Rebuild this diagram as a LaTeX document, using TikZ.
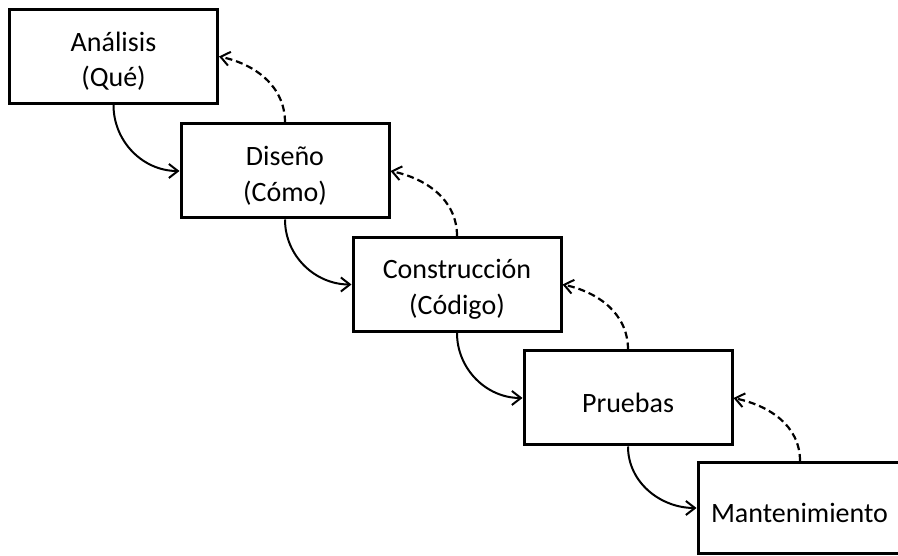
\documentclass[tikz,border=0pt]{standalone}
\usepackage{fontspec}
\setmainfont{Carlito}
\usetikzlibrary{arrows.meta}

% strut that sets the text a little lower inside each box
\newcommand{\toproom}{\rule{0pt}{29bp}}

\tikzset{
  phase/.style={draw, line width=3bp, rectangle, minimum width=208bp,
    minimum height=94bp, inner sep=0pt, align=center,
    font=\fontsize{28bp}{35.5bp}\selectfont},
  forward/.style={line width=2bp, -{Straight Barb[length=9bp,width=14bp,line width=2bp]},
    out=-90, in=180},
  feedback/.style={line width=2.2bp, dash pattern=on 7bp off 4bp,
    -{Straight Barb[length=9bp,width=14bp,line width=2bp]}, out=90, in=-12},
}

\begin{document}
\begin{tikzpicture}[x=1bp, y=1bp]
  \useasboundingbox (0,0) rectangle (898,556);
  \clip (0,0) rectangle (898,556);
  \fill[white] (0,0) rectangle (898,556);

  % phases of the waterfall, stepping down to the right
  \node[phase] (ana) at (113.5, 499.5) {\toproom Análisis\\(Qué)};
  \node[phase] (dis) at (285, 385)     {\toproom Diseño\\(Cómo)};
  \node[phase] (con) at (457, 271.5)   {\toproom Construcción\\(Código)};
  \node[phase] (pru) at (628, 158)     {\toproom Pruebas};
  % the last phase runs past the right edge of the page
  \node[phase, anchor=west, minimum width=0pt, minimum height=91bp,
        text width=234bp, inner xsep=13bp, align=left]
        (man) at (696.5, 48) {\toproom Mantenimiento};

  % forward flow
  \draw[forward] (ana.south) to (dis.west);
  \draw[forward] (dis.south) to (con.west);
  \draw[forward] (con.south) to (pru.west);
  \draw[forward] (pru.south) to (man.west);

  % feedback to the previous phase
  \draw[feedback] (dis.north) to (ana.east);
  \draw[feedback] (con.north) to (dis.east);
  \draw[feedback] (pru.north) to (con.east);
  \draw[feedback] ([xshift=103.5bp]man.north west) to (pru.east);
\end{tikzpicture}
\end{document}
